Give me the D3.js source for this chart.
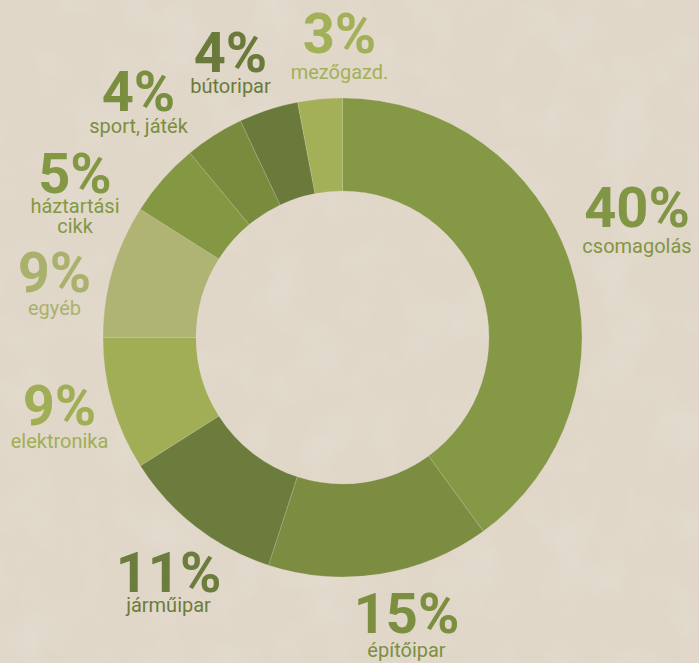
<!DOCTYPE html>
<html>
<head>
<meta charset="utf-8">
<script src="https://cdn.jsdelivr.net/npm/d3@7"></script>
<style>
  html, body { margin: 0; padding: 0; background: #e2d9cb; overflow: hidden; }
  svg { display: block; }
  text { font-family: Roboto, "Noto Sans", sans-serif; }
</style>
</head>
<body>
<svg id="chart" width="699" height="663"></svg>
<script>
// ---- data ----
const categories = ["csomagolás", "építőipar", "járműipar", "elektronika", "egyéb", "háztartási\ncikk", "sport, játék", "bútoripar", "mezőgazd."];
const values = [40, 15, 11, 9, 9, 5, 4, 4, 3];
const percentLabels = ["40%", "15%", "11%", "9%", "9%", "5%", "4%", "4%", "3%"];

// ---- styles ----
const sliceColors = ["#859845", "#7c8d41", "#6b7c3c", "#a1ae55", "#afb474", "#849843", "#798c3e", "#6a7a3a", "#a3b058"];
const textColors  = ["#809644", "#7c8f40", "#6b7c3c", "#a0ae55", "#a9b26c", "#839843", "#7a8e3f", "#6a7a3a", "#a2b057"];
// label anchor (percent baseline centre) and gap to first category line
const labelPos = [[637, 227], [406.5, 633], [168.5, 592], [59.5, 425], [54.5, 292], [75, 193], [138.5, 111], [230.5, 72], [339.5, 53]];
const labelGap = [26, 24, 20, 23, 23, 20, 22, 21, 26];

const W = 699, H = 663;
const cx = 342.5, cy = 337.5, R = 239.5, r = 146.5;

const svg = d3.select("#chart");

// paper texture
const defs = svg.append("defs");
const f = defs.append("filter").attr("id", "paper").attr("x", 0).attr("y", 0).attr("width", "100%").attr("height", "100%");
f.append("feTurbulence").attr("type", "fractalNoise").attr("baseFrequency", 0.8).attr("numOctaves", 2).attr("seed", 4).attr("result", "n");
f.append("feColorMatrix").attr("type", "matrix")
  .attr("values", "0 0 0 0 0.55  0 0 0 0 0.5  0 0 0 0 0.42  0 0 0 0.18 -0.02");
const f2 = defs.append("filter").attr("id", "blotch").attr("x", 0).attr("y", 0).attr("width", "100%").attr("height", "100%");
f2.append("feTurbulence").attr("type", "fractalNoise").attr("baseFrequency", 0.02).attr("numOctaves", 3).attr("seed", 9);
f2.append("feColorMatrix").attr("type", "matrix")
  .attr("values", "0 0 0 0 0.96  0 0 0 0 0.94  0 0 0 0 0.9  0 0 0 0.5 -0.22");
svg.append("rect").attr("width", W).attr("height", H).attr("fill", "#e1d8ca");
svg.append("rect").attr("width", W).attr("height", H).attr("filter", "url(#blotch)").attr("opacity", 0.6);
svg.append("rect").attr("width", W).attr("height", H).attr("filter", "url(#paper)").attr("opacity", 0.5);

const pie = d3.pie().sort(null).value(d => d)(values);
const arc = d3.arc().innerRadius(r).outerRadius(R);

const g = svg.append("g").attr("transform", `translate(${cx},${cy})`);
g.selectAll("path.slice").data(pie).join("path")
  .attr("class", "slice")
  .attr("d", arc)
  .attr("fill", (d, i) => sliceColors[i])
  .attr("stroke", "rgba(226,217,203,0.35)")
  .attr("stroke-width", 0.6);

const labels = svg.selectAll("g.lab").data(pie).join("g")
  .attr("class", "lab")
  .attr("transform", (d, i) => `translate(${labelPos[i][0]},${labelPos[i][1]})`);

labels.append("text")
  .attr("text-anchor", "middle")
  .attr("font-size", 56)
  .attr("font-weight", 700)
  .attr("fill", (d, i) => textColors[i])
  .text((d, i) => percentLabels[i]);

labels.each(function (d, i) {
  const lines = categories[i].split("\n");
  const t = d3.select(this).append("text")
    .attr("text-anchor", "middle")
    .attr("font-size", 20)
    .attr("font-weight", 400)
    .attr("fill", textColors[i]);
  lines.forEach((ln, k) => {
    t.append("tspan").attr("x", 0).attr("y", labelGap[i] + k * 20).text(ln);
  });
});
</script>
</body>
</html>
